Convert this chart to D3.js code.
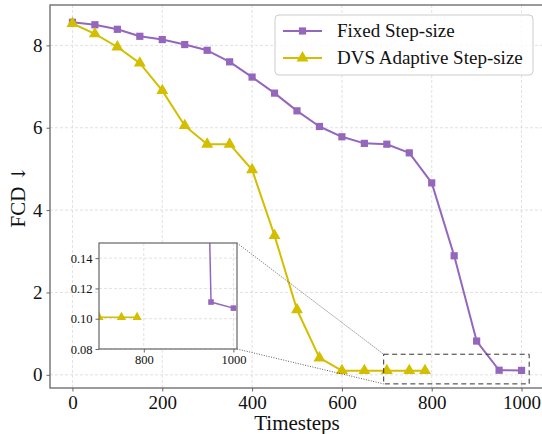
<!DOCTYPE html>
<html>
<head>
<meta charset="utf-8">
<script src="https://cdn.jsdelivr.net/npm/d3@7"></script>
<style>
  body { margin: 0; background: #fff; }
  svg, svg text { font-family: "Liberation Serif", "DejaVu Serif", serif; }
</style>
</head>
<body>
<svg id="chart"></svg>
<script>
// data
const seriesNames = ['Fixed Step-size', 'DVS Adaptive Step-size'];
const timestepsFixed = [0, 50, 100, 150, 200, 250, 300, 350, 400, 450, 500,
  550, 600, 650, 700, 750, 800, 850, 900, 950, 1000];
const fcdFixed = [8.56, 8.50, 8.39, 8.22, 8.14, 8.02, 7.88, 7.60, 7.23, 6.84, 6.41,
  6.03, 5.78, 5.62, 5.60, 5.39, 4.66, 2.89, 0.82, 0.111, 0.107];
const timestepsDvs = [0, 50, 100, 150, 200, 250, 300, 350, 400, 450, 500,
  550, 600, 650, 700, 750, 785];
const fcdDvs = [8.53, 8.28, 7.96, 7.57, 6.90, 6.05, 5.60, 5.60, 4.98, 3.38, 1.58,
  0.41, 0.101, 0.101, 0.101, 0.101, 0.101];
const xTicks = [0, 200, 400, 600, 800, 1000];
const yTicks = [0, 2, 4, 6, 8];
const insetXTicks = [800, 1000];
const insetYTicks = [0.08, 0.10, 0.12, 0.14];

const config = {
  width: 542, height: 434,
  margin: { top: 5, right: -2, bottom: 46, left: 50 },
  xDomain: [-50, 1050], yDomain: [-0.32, 8.98],
  inset: { x: 99, y: 243, w: 138, h: 106, xDomain: [700, 1008], yDomain: [0.08, 0.15] },
  zoomBox: { x: [693, 1017], y: [-0.22, 0.50] }, // drawn rectangle, a bit larger than the inset limits
  colors: ['#9467bd', '#d4be00'],
  spine: '#666',
  grid: '#d9d9d9',
  font: '"Liberation Serif", "DejaVu Serif", serif'
};

const series = [
  { name: seriesNames[0], x: timestepsFixed, y: fcdFixed, color: config.colors[0], symbol: d3.symbolSquare, size: 52 },
  { name: seriesNames[1], x: timestepsDvs, y: fcdDvs, color: config.colors[1], symbol: d3.symbolTriangle, size: 62 }
];

const svg = d3.select('#chart').attr('width', config.width).attr('height', config.height);
const m = config.margin;
const innerW = config.width - m.left - m.right;
const innerH = config.height - m.top - m.bottom;

const x = d3.scaleLinear().domain(config.xDomain).range([m.left, m.left + innerW]);
const y = d3.scaleLinear().domain(config.yDomain).range([m.top + innerH, m.top]);

// grid
const grid = svg.append('g');
grid.selectAll('.vgrid').data(xTicks).join('line')
  .attr('x1', d => x(d)).attr('x2', d => x(d))
  .attr('y1', m.top).attr('y2', m.top + innerH)
  .attr('stroke', config.grid).attr('stroke-width', 0.8).attr('stroke-dasharray', '3,2');
grid.selectAll('.hgrid').data(yTicks).join('line')
  .attr('y1', d => y(d)).attr('y2', d => y(d))
  .attr('x1', m.left).attr('x2', m.left + innerW)
  .attr('stroke', config.grid).attr('stroke-width', 0.8).attr('stroke-dasharray', '3,2');

// axes
function styleAxis(a, size) {
  a.attr('font-family', null);
  a.selectAll('.domain').remove();
  a.selectAll('line').attr('stroke', config.spine);
  a.selectAll('text').attr('fill', '#111')
    .style('font-family', config.font).style('font-size', size + 'px');
}
const xAxis = svg.append('g')
  .attr('transform', `translate(0,${m.top + innerH})`)
  .call(d3.axisBottom(x).tickValues(xTicks).tickFormat(d3.format('d')).tickSize(3.5).tickPadding(4).tickSizeOuter(0));
const yAxis = svg.append('g')
  .attr('transform', `translate(${m.left},0)`)
  .call(d3.axisLeft(y).tickValues(yTicks).tickFormat(d3.format('d')).tickSize(3.5).tickPadding(4).tickSizeOuter(0));
styleAxis(xAxis, 19);
styleAxis(yAxis, 19);

// spines
svg.append('rect')
  .attr('x', m.left).attr('y', m.top).attr('width', innerW).attr('height', innerH)
  .attr('fill', 'none').attr('stroke', config.spine).attr('stroke-width', 1.3);

// axis titles
svg.append('text')
  .attr('x', m.left + innerW / 2).attr('y', 430)
  .attr('text-anchor', 'middle').style('font-size', '21px').attr('fill', '#111')
  .text('Timesteps');
const yTitle = svg.append('text')
  .attr('transform', `translate(25,${m.top + innerH / 2}) rotate(-90)`)
  .attr('text-anchor', 'middle').style('font-size', '21px').attr('fill', '#111');
yTitle.append('tspan').text('FCD ');
yTitle.append('tspan').style('font-family', '"DejaVu Serif", serif').style('font-size', '19px').text('\u2193');

// series lines and markers
const plot = svg.append('g');
series.forEach(s => {
  const pts = s.x.map((d, i) => [d, s.y[i]]);
  plot.append('path')
    .datum(pts)
    .attr('fill', 'none').attr('stroke', s.color).attr('stroke-width', 2)
    .attr('stroke-linejoin', 'round')
    .attr('d', d3.line().x(d => x(d[0])).y(d => y(d[1])));
  plot.selectAll(null).data(pts).join('path')
    .attr('transform', d => `translate(${x(d[0])},${y(d[1])})`)
    .attr('d', d3.symbol(s.symbol, s.size))
    .attr('fill', s.color);
});

// zoom rectangle and connector lines
const ins = config.inset;
const zb = config.zoomBox;
svg.append('rect')
  .attr('x', x(zb.x[0])).attr('y', y(zb.y[1]))
  .attr('width', x(zb.x[1]) - x(zb.x[0])).attr('height', y(zb.y[0]) - y(zb.y[1]))
  .attr('fill', 'none').attr('stroke', '#333').attr('stroke-width', 1)
  .attr('stroke-dasharray', '5,3.5');
[[ins.y, zb.y[1]], [ins.y + ins.h, zb.y[0]]].forEach(([iy, dy]) => {
  svg.append('line')
    .attr('x1', ins.x + ins.w).attr('y1', iy)
    .attr('x2', x(zb.x[0])).attr('y2', y(dy))
    .attr('stroke', '#333').attr('stroke-width', 0.8).attr('stroke-dasharray', '1,1.5');
});

// legend
const legend = svg.append('g').attr('transform', 'translate(275,15)');
legend.append('rect')
  .attr('width', 258).attr('height', 60).attr('rx', 4)
  .attr('fill', '#fff').attr('fill-opacity', 0.8)
  .attr('stroke', '#ccc').attr('stroke-width', 1);
series.forEach((s, i) => {
  const ly = 16 + i * 27;
  legend.append('line')
    .attr('x1', 8).attr('x2', 47).attr('y1', ly).attr('y2', ly)
    .attr('stroke', s.color).attr('stroke-width', 2);
  legend.append('path')
    .attr('transform', `translate(27.5,${ly})`)
    .attr('d', d3.symbol(s.symbol, s.size))
    .attr('fill', s.color);
  legend.append('text')
    .attr('x', 62).attr('y', ly).attr('dy', '0.33em')
    .style('font-size', '19px').attr('fill', '#111')
    .text(s.name);
});

// inset axes
const ix = d3.scaleLinear().domain(ins.xDomain).range([ins.x, ins.x + ins.w]);
const iy = d3.scaleLinear().domain(ins.yDomain).range([ins.y + ins.h, ins.y]);
const inset = svg.append('g');
inset.append('rect')
  .attr('x', ins.x).attr('y', ins.y).attr('width', ins.w).attr('height', ins.h)
  .attr('fill', '#fff');
inset.selectAll('.ivgrid').data(insetXTicks.filter(d => d < ins.xDomain[1])).join('line')
  .attr('x1', d => ix(d)).attr('x2', d => ix(d))
  .attr('y1', ins.y).attr('y2', ins.y + ins.h)
  .attr('stroke', config.grid).attr('stroke-width', 0.8).attr('stroke-dasharray', '3,2');
inset.selectAll('.ihgrid').data(insetYTicks).join('line')
  .attr('y1', d => iy(d)).attr('y2', d => iy(d))
  .attr('x1', ins.x).attr('x2', ins.x + ins.w)
  .attr('stroke', config.grid).attr('stroke-width', 0.8).attr('stroke-dasharray', '3,2');

svg.append('clipPath').attr('id', 'inset-clip')
  .append('rect').attr('x', ins.x).attr('y', ins.y).attr('width', ins.w).attr('height', ins.h);
const insetPlot = inset.append('g').attr('clip-path', 'url(#inset-clip)');
series.forEach(s => {
  const pts = s.x.map((d, i) => [d, s.y[i]]);
  insetPlot.append('path')
    .datum(pts)
    .attr('fill', 'none').attr('stroke', s.color).attr('stroke-width', 1.5)
    .attr('d', d3.line().x(d => ix(d[0])).y(d => iy(d[1])));
  insetPlot.selectAll(null).data(pts.filter(d => d[1] < 0.2)).join('path')
    .attr('transform', d => `translate(${ix(d[0])},${iy(d[1])})`)
    .attr('d', d3.symbol(s.symbol, s.size * 0.6))
    .attr('fill', s.color);
});

const ixAxis = inset.append('g')
  .attr('transform', `translate(0,${ins.y + ins.h})`)
  .call(d3.axisBottom(ix).tickValues(insetXTicks).tickFormat(d3.format('d')).tickSize(3.5).tickPadding(3).tickSizeOuter(0));
const iyAxis = inset.append('g')
  .attr('transform', `translate(${ins.x},0)`)
  .call(d3.axisLeft(iy).tickValues(insetYTicks).tickFormat(d3.format('.2f')).tickSize(3.5).tickPadding(3).tickSizeOuter(0));
styleAxis(ixAxis, 12.5);
styleAxis(iyAxis, 12.5);
inset.append('rect')
  .attr('x', ins.x).attr('y', ins.y).attr('width', ins.w).attr('height', ins.h)
  .attr('fill', 'none').attr('stroke', config.spine).attr('stroke-width', 1.2);
</script>
</body>
</html>
